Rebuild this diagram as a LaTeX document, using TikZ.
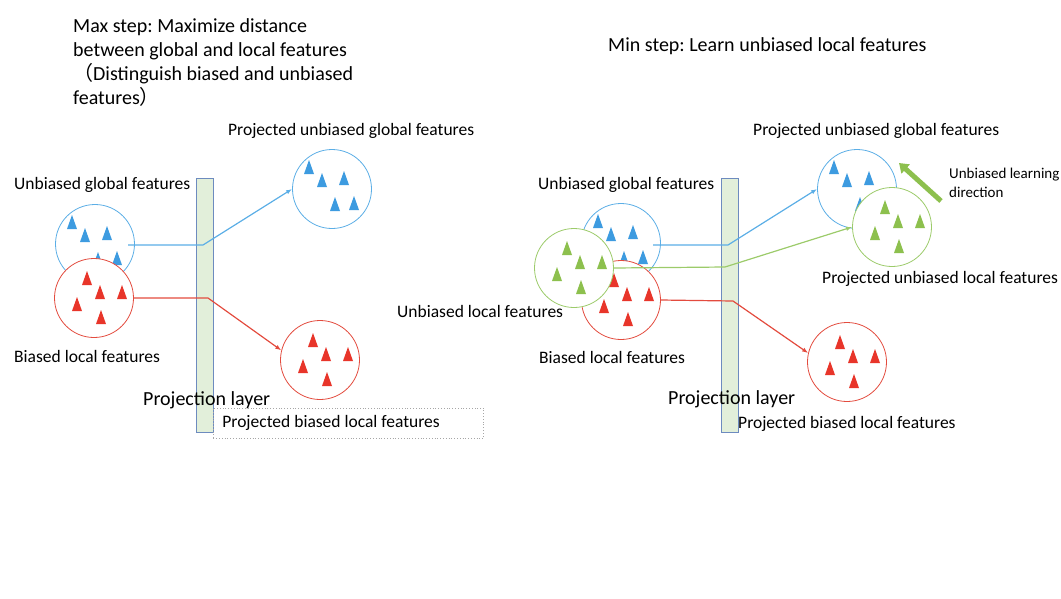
\documentclass[tikz,border=0pt]{standalone}
\usepackage{fontspec}
\setmainfont{Carlito}
\newfontfamily\cjk{Noto Sans CJK SC}
\usetikzlibrary{arrows.meta,calc}
\frenchspacing
\definecolor{blueF}{HTML}{3D9BE0}
\definecolor{blueL}{HTML}{5BAEE6}
\definecolor{redF}{HTML}{E8352A}
\definecolor{redL}{HTML}{E34B3E}
\definecolor{greenF}{HTML}{8DC04E}
\definecolor{greenL}{HTML}{9CCB6A}
\definecolor{barF}{HTML}{E2EFDA}
\definecolor{barL}{HTML}{6D8BBF}
\tikzset{
  feat/.style={circle, draw, fill=white, line width=0.8pt, minimum size=79pt, inner sep=0pt},
  bar/.style={draw=barL, fill=barF, line width=0.9pt, minimum width=17pt, minimum height=254pt, inner sep=0pt},
  lbl/.style={font=\fontsize{17.5}{21}\selectfont, inner sep=0pt, anchor=base west},
  ttl/.style={font=\fontsize{20}{24}\selectfont, inner sep=0pt, align=left},
  proj/.style={line width=1.2pt, -{Latex[length=6pt,width=4.5pt]}},
  tri/.pic={\fill[pic actions] (-5,7) -- (5,7) -- (0,-7) -- cycle;}
}
\newcommand\blueset{-23/-22,-10/-9,12/-11,3/15,22/14}
\newcommand\redset{-7/-20,6/-6,28/-6,-17/6,7/19}
\begin{document}
\begin{tikzpicture}[x=1pt,y=-1pt]
  \useasboundingbox (0,0) rectangle (1061,598);
  \node[ttl, anchor=north west] (maxT) at (73,18) {Max step: Maximize distance\\between global and local features\\{\cjk （}Distinguish biased and unbiased\\features{\cjk ）}};
  \node[ttl, anchor=base west] (minT) at (608,51) {Min step: Learn unbiased local features};

  \node[feat, draw=blueL] (ugL) at (95,244) {};
  \foreach \dx/\dy in \blueset \pic[fill=blueF] at ($(ugL)+(\dx,\dy)$) {tri};
  \node[feat, draw=redL] (blL) at (94,298) {};
  \foreach \dx/\dy in \redset \pic[fill=redF] at ($(blL)+(\dx,\dy)$) {tri};
  \node[feat, draw=blueL] (pugL) at (332,189) {};
  \foreach \dx/\dy in \blueset \pic[fill=blueF] at ($(pugL)+(\dx,\dy)$) {tri};
  \node[feat, draw=redL] (pblL) at (320,360) {};
  \foreach \dx/\dy in \redset \pic[fill=redF] at ($(pblL)+(\dx,\dy)$) {tri};
  \node[bar] (barL) at (204.5,305) {};
  \node[lbl] (pugLt) at (228,135.5) {Projected unbiased global features};
  \node[lbl] (ugLt) at (14,189) {Unbiased global features};
  \node[lbl] (blLt) at (14,362.5) {Biased local features};
  \node[lbl, font=\fontsize{20}{24}\selectfont] (barLt) at (143,405.5) {Projection layer};
  \node[draw=gray!70, dotted, line width=0.8pt, text width=252pt, align=flush left, inner xsep=9pt, inner ysep=0pt,
        minimum height=30pt, font=\fontsize{17.5}{21}\selectfont, anchor=west] (pblLt) at (213,423) {Projected biased local features};
  \coordinate (ugLout) at (128,245);
  \coordinate (ugLmid) at (203,245);
  \coordinate (blLmid) at (208,298);
  \draw[proj, blueL] (ugLout) -- (ugLmid) -- (pugL.west);
  \draw[proj, redL] (blL.east) -- (blLmid) -- (pblL.166);

  \node[feat, draw=blueL] (ugR) at (621,243) {};
  \foreach \dx/\dy in \blueset \pic[fill=blueF] at ($(ugR)+(\dx,\dy)$) {tri};
  \node[feat, draw=redL] (blR) at (621,300) {};
  \foreach \dx/\dy in \redset \pic[fill=redF] at ($(blR)+(\dx,\dy)$) {tri};
  \node[feat, draw=greenL] (ulR) at (574,268) {};
  \foreach \dx/\dy in \redset \pic[fill=greenF] at ($(ulR)+(\dx,\dy)$) {tri};
  \node[feat, draw=blueL] (pugR) at (857,189) {};
  \foreach \dx/\dy in \blueset \pic[fill=blueF] at ($(pugR)+(\dx,\dy)$) {tri};
  \node[feat, draw=greenL] (pulR) at (892,227) {};
  \foreach \dx/\dy in \redset \pic[fill=greenF] at ($(pulR)+(\dx,\dy)$) {tri};
  \node[feat, draw=redL] (pblR) at (847,362) {};
  \foreach \dx/\dy in \redset \pic[fill=redF] at ($(pblR)+(\dx,\dy)$) {tri};
  \node[bar] (barR) at (729.5,305.5) {};
  \node[lbl] (pugRt) at (753,135.5) {Projected unbiased global features};
  \node[lbl] (ugRt) at (538,189) {Unbiased global features};
  \node[lbl] (ulRt) at (397,317.5) {Unbiased local features};
  \node[lbl] (blRt) at (539,363.5) {Biased local features};
  \node[lbl] (pulRt) at (822,283.5) {Projected unbiased local features};
  \node[lbl, font=\fontsize{20}{24}\selectfont] (barRt) at (668,404.5) {Projection layer};
  \node[lbl] (pblRt) at (738,428.5) {Projected biased local features};
  \node[font=\fontsize{15}{19}\selectfont, inner sep=0pt, align=left, anchor=north west] (dirT) at (949,168) {Unbiased learning\\direction};
  \coordinate (ugRout) at (653,245);
  \coordinate (ugRmid) at (728,245);
  \coordinate (ulRmid) at (725,267);
  \coordinate (blRmid) at (733,301);
  \draw[proj, blueL] (ugRout) -- (ugRmid) -- (pugR.west);
  \draw[proj, greenL] (ulR.east) -- (ulRmid) -- (pulR.west);
  \draw[proj, redL] (blR.east) -- (blRmid) -- (pblR.167);
  \coordinate (dirS) at (941,201);
  \coordinate (dirE) at (899,163);
  \draw[greenF, line width=5pt, -{Triangle[length=9pt,width=12pt]}] (dirS) -- (dirE);
\end{tikzpicture}
\end{document}
